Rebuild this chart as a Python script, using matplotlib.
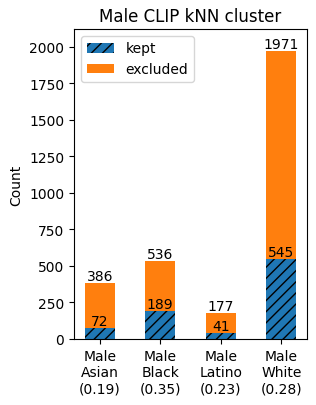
import matplotlib
matplotlib.use("Agg")
import matplotlib.pyplot as plt
import numpy as np

categories = ["Male\nAsian\n(0.19)", "Male\nBlack\n(0.35)", "Male\nLatino\n(0.23)", "Male\nWhite\n(0.28)"]
kept = [72, 189, 41, 545]
total = [386, 536, 177, 1971]
excluded = [t - k for t, k in zip(total, kept)]

fig, ax = plt.subplots(figsize=(3.16, 4.06), dpi=100)
fig.subplots_adjust(left=74/316, right=307/316, top=1-30/406, bottom=1-340/406)
x = np.arange(len(categories))
b1 = ax.bar(x, kept, width=0.5, color="#1f77b4", hatch="///", label="kept")
b2 = ax.bar(x, excluded, width=0.5, bottom=kept, color="#ff7f0e", label="excluded")
ax.bar_label(b1, labels=[str(v) for v in kept])
ax.bar_label(b2, labels=[str(v) for v in total])
ax.set_xticks(x)
ax.set_xticklabels(categories)
ax.set_ylim(0, 2120)
ax.set_ylabel("Count")
ax.set_title("Male CLIP kNN cluster")
ax.legend(loc="upper left")
fig.savefig("out.png", dpi=100)
